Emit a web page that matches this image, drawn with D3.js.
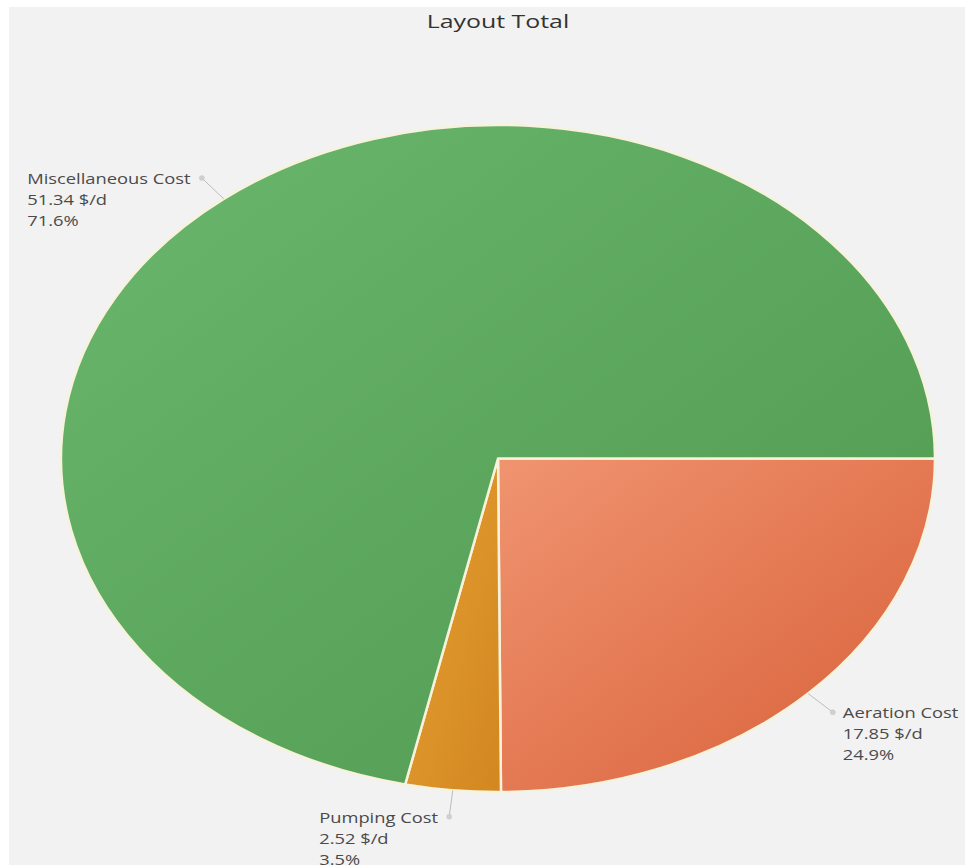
<!DOCTYPE html>
<html>
<head>
<meta charset="utf-8">
<script src="https://cdn.jsdelivr.net/npm/d3@7"></script>
<style>
  html, body { margin: 0; padding: 0; background: #fff; }
  svg { display: block; }
</style>
</head>
<body>
<svg id="chart"></svg>
<script>
// ---------- data ----------
const categories = ["Aeration Cost", "Pumping Cost", "Miscellaneous Cost"];
const costs = [17.85, 2.52, 51.34];           // $/d
const percents = ["24.9%", "3.5%", "71.6%"];
const colorsLight = ["#f09470", "#e6a035", "#6ab76d"];
const colorsDark = ["#d75f38", "#d2871f", "#4f984f"];

// ---------- layout ----------
const width = 966, height = 866;
const cx = 498, cy = 458.5;
const rx = 437, ry = 333.5;
const textScale = 1.31;

const svg = d3.select("#chart").attr("width", width).attr("height", height);

// panel background
svg.append("rect")
  .attr("x", 9).attr("y", 7)
  .attr("width", width - 10).attr("height", height - 8)
  .attr("fill", "#f2f2f2");

// title
svg.append("text")
  .attr("transform", `translate(${cx},28) scale(${textScale},1)`)
  .attr("text-anchor", "middle")
  .attr("font-family", "'Open Sans', sans-serif")
  .attr("font-size", 19)
  .attr("fill", "#333")
  .text("Layout Total");

// gradients per slice
const defs = svg.append("defs");
categories.forEach((c, i) => {
  const g = defs.append("linearGradient")
    .attr("id", "grad" + i)
    .attr("x1", 0).attr("y1", 0).attr("x2", 1).attr("y2", 1);
  g.append("stop").attr("offset", "0%").attr("stop-color", colorsLight[i]);
  g.append("stop").attr("offset", "100%").attr("stop-color", colorsDark[i]);
});

const data = categories.map((c, i) => ({ name: c, value: costs[i], pct: percents[i], idx: i }));

const pie = d3.pie()
  .value(d => d.value)
  .sort(null)
  .startAngle(Math.PI / 2)
  .endAngle(Math.PI / 2 + 2 * Math.PI);

const arcs = pie(data);
const r = ry;
const arc = d3.arc().innerRadius(0).outerRadius(r);
const outerArc = d3.arc().innerRadius(r * 1.08).outerRadius(r * 1.08);
const sx = rx / r;

// pie drawn as a circle then stretched to an ellipse
const pieG = svg.append("g")
  .attr("transform", `translate(${cx},${cy}) scale(${sx},1)`);

pieG.selectAll("path")
  .data(arcs)
  .enter()
  .append("path")
  .attr("d", arc)
  .attr("fill", d => `url(#grad${d.data.idx})`)
  .attr("stroke", "#f6f2dc")
  .attr("stroke-width", 2.5)
  .attr("stroke-linejoin", "round")
  .attr("vector-effect", "non-scaling-stroke");

// leader lines and labels (screen coordinates)
const toScreen = p => [cx + p[0] * sx, cy + p[1]];

arcs.forEach(d => {
  const mid = (d.startAngle + d.endAngle) / 2;
  const a = { startAngle: mid, endAngle: mid };
  const p0 = toScreen(arc.centroid(a).map(v => v * 2)); // point on outer edge
  const p1 = toScreen(outerArc.centroid(a));
  const right = Math.sin(mid) > 0.3;

  svg.append("line")
    .attr("x1", p0[0]).attr("y1", p0[1])
    .attr("x2", p1[0]).attr("y2", p1[1])
    .attr("stroke", "#bdbdbd")
    .attr("stroke-width", 1);

  svg.append("circle")
    .attr("cx", p1[0]).attr("cy", p1[1])
    .attr("r", 2.5)
    .attr("fill", "#d0d0d0")
    .attr("stroke", "#c4c4c4")
    .attr("stroke-width", 0.5);

  const tx = right ? p1[0] + 10 : p1[0] - 11;
  const t = svg.append("text")
    .attr("transform", `translate(${tx},${p1[1] + 6}) scale(${textScale},1)`)
    .attr("text-anchor", right ? "start" : "end")
    .attr("font-family", "'Open Sans', sans-serif")
    .attr("font-size", 14)
    .attr("fill", "#4a4a4a");

  const lines = [d.data.name, d.data.value.toFixed(2) + " $/d", d.data.pct];
  lines.forEach((s, k) => {
    t.append("tspan")
      .attr("x", 0)
      .attr("y", k * 21)
      .attr("text-anchor", "start")
      .text(s);
  });
  // left-side labels are left aligned block ending at the dot
  if (!right) {
    const w = t.node().getBBox().width;
    t.attr("text-anchor", "start")
      .attr("transform", `translate(${p1[0] - 11 - w * textScale},${p1[1] + 6}) scale(${textScale},1)`);
  }
});
</script>
</body>
</html>
